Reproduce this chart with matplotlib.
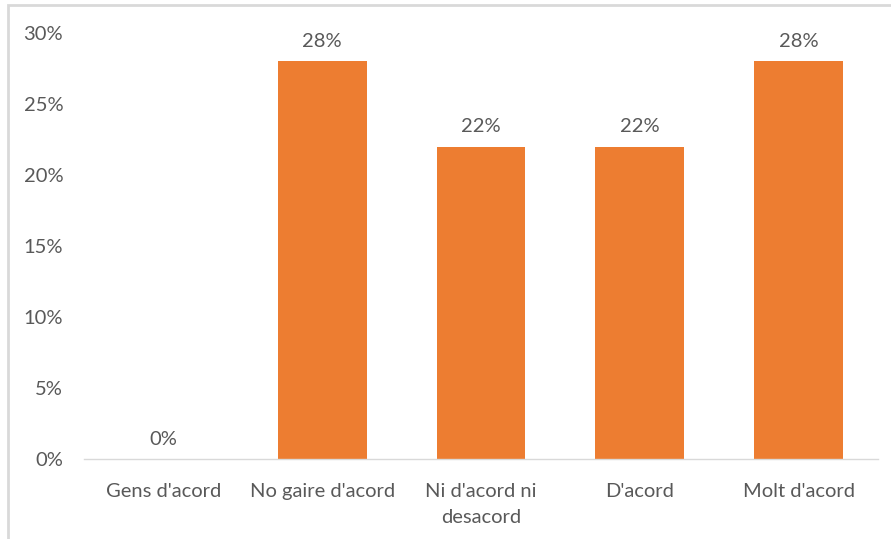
import matplotlib.pyplot as plt
from matplotlib.patches import Rectangle
from matplotlib.ticker import PercentFormatter

plt.rcParams['font.family'] = ['Lato', 'DejaVu Sans']

categories = ["Gens d'acord", "No gaire d'acord", "Ni d'acord ni\ndesacord", "D'acord", "Molt d'acord"]
values = [0.0, 0.28, 0.22, 0.22, 0.28]
labels = ["0%", "28%", "22%", "22%", "28%"]

text_color = '#595959'
bar_color = '#ED7D31'
fs = 14.5

fig = plt.figure(figsize=(8.91, 5.39), dpi=100)
ax = fig.add_axes([84 / 891, 1 - 459 / 539, 794 / 891, (459 - 33) / 539])

x = range(len(categories))
bars = ax.bar(x, values, width=0.56, color=bar_color)
for b, lab in zip(bars, labels):
    ax.text(b.get_x() + b.get_width() / 2, b.get_height() + 0.008, lab,
            ha='center', va='bottom', fontsize=fs, color=text_color)

ax.set_xlim(-0.5, len(categories) - 0.5)
ax.set_ylim(0, 0.30)
ax.set_yticks([0, 0.05, 0.10, 0.15, 0.20, 0.25, 0.30])
ax.yaxis.set_major_formatter(PercentFormatter(1.0, decimals=0))
ax.set_xticks(list(x))
ax.set_xticklabels(categories, fontsize=fs, color=text_color, linespacing=1.65)
ax.tick_params(axis='y', labelsize=fs, labelcolor=text_color, length=0, pad=15)
ax.tick_params(axis='x', length=0, pad=17)

for s in ['top', 'right', 'left']:
    ax.spines[s].set_visible(False)
ax.spines['bottom'].set_color('#d9d9d9')
ax.spines['bottom'].set_linewidth(1)

# chart border (cropped at right/bottom)
fig.patches.append(Rectangle((8 / 891, -0.1), 1.2, 1 - 5 / 539 + 0.1,
                             transform=fig.transFigure, fill=False,
                             edgecolor='#d9d9d9', linewidth=2))

fig.savefig('out.png', dpi=100)
